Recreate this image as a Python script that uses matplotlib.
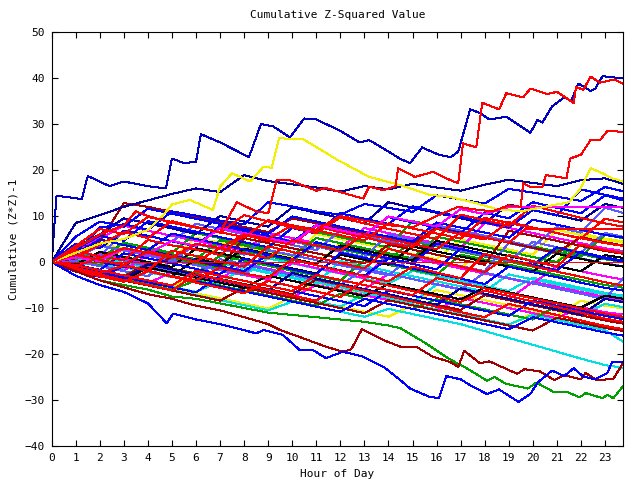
import matplotlib
matplotlib.use("Agg")
import matplotlib.pyplot as plt

# hourly sample points for the bundle of walks
hours = list(range(24)) + [23.75]

# prominent walks, read as (hour, value) breakpoints
top_blue_h = [0, 0.2, 1.25, 1.5, 2.4, 3.0, 4.0, 4.75, 5.0, 5.5, 6.0, 6.2, 7.0, 8.2, 8.7, 9.2, 9.9, 10.5, 11.0, 12.0,
              12.8, 13.2, 14.0, 14.5, 14.9, 15.4, 16.1, 16.6, 16.9, 17.4, 17.8, 18.2, 18.9, 19.9, 20.2, 20.4, 20.8,
              21.3, 21.6, 21.9, 22.4, 22.6, 22.9, 23.75]
top_blue_v = [0, 14.4, 13.7, 18.7, 16.5, 17.5, 16.5, 16.0, 22.5, 21.5, 21.8, 27.8, 26.0, 22.8, 30.0, 29.5, 27.1, 31.2,
              31.0, 28.5, 26.0, 26.5, 24.0, 22.4, 21.5, 24.9, 23.3, 22.8, 24.0, 33.2, 32.4, 31.0, 31.6, 28.1, 30.9,
              30.3, 33.8, 35.8, 35.1, 38.8, 37.2, 37.7, 40.4, 39.9]

top_red_h = [0, 1, 2, 3, 3.5, 4, 5, 6, 7, 7.7, 8.5, 9.0, 9.35, 9.9, 11.0, 11.4, 12.4, 12.95, 13.2, 13.8, 14.3, 14.4,
             15.1, 15.85, 16.4, 16.9, 17.1, 17.65, 17.9, 18.6, 18.9, 19.6, 19.9, 20.6, 21.0, 21.7, 21.8, 22.1, 22.4,
             22.8, 23.4, 23.75]
top_red_v = [0, 3, 6, 8, 11, 10, 8.5, 7.5, 6.5, 13, 11, 10.6, 17.8, 17.8, 15.5, 16.1, 14.6, 13.8, 16.4, 15.6, 16.5,
             20.4, 18.5, 19.6, 18.2, 17.1, 25.8, 24.9, 34.6, 33.2, 36.7, 35.8, 37.7, 36.5, 37.0, 34.6, 38.1, 37.4,
             40.3, 39.0, 39.7, 38.8]

red2_h = [0, 1, 2, 3, 4, 5, 6, 7, 8, 9, 10, 11, 12, 13, 14, 15, 16, 16.9, 17.5, 18.3, 19.0, 19.5, 19.6, 19.95, 20.4,
          20.55, 21.4, 21.55, 22.0, 22.4, 22.8, 23.1, 23.75]
red2_v = [0, -1, 1, 3, 2, 1, 4, 3, 6, 5, 8, 7, 10, 9, 8, 7.5, 10, 12, 11.5, 11, 12.3, 12, 17.1, 16.2, 16.3, 18.9, 18.2,
          22.5, 23.3, 26.5, 26.5, 28.5, 28.3]

yellow_top_h = [0, 1, 2, 3, 4, 4.6, 5.0, 5.75, 6.7, 7.0, 7.5, 8.25, 8.8, 9.15, 9.45, 10.45, 11.85, 13.2, 14.5, 15.7,
                16.5, 17.5, 18.5, 19.5, 20.5, 21.5, 21.95, 22.4, 22.9, 23.3, 23.75]
yellow_top_v = [0, 2, 4, 5, 7, 10, 12.5, 13.5, 11.3, 16.4, 19.3, 17.5, 20.7, 20.5, 26.9, 26.7, 22.3, 18.5, 16.7, 14.6,
                14.2, 13, 11.5, 11, 12, 13, 15.7, 20.4, 19.3, 18.2, 17.5]

blue_low_h = [0, 1, 2, 3, 4, 4.78, 5.05, 6, 7, 8.5, 8.8, 9.6, 10.3, 10.85, 11.4, 12.1, 12.9, 13.8, 14.5, 14.9, 15.7,
              16.1, 16.4, 17.0, 17.5, 18.1, 18.6, 19.4, 19.9, 20.2, 20.8, 21.3, 21.7, 22.1, 22.6, 23.1, 23.3, 23.75]
blue_low_v = [0, -3, -5, -6.5, -9, -13.3, -11.2, -12.5, -13.5, -15.5, -14.8, -15.8, -19.1, -19.1, -20.9, -19.5, -20.5,
              -22.8, -25.7, -27.5, -29.3, -29.6, -24.8, -25.5, -27.1, -28.7, -27.7, -30.4, -28.7, -26.2, -23.6, -24.8,
              -23.1, -24.9, -25.5, -24.1, -21.7, -21.8]

green_low_h = [0, 1, 2, 3, 4, 5, 6, 7, 8, 9, 10, 11, 12, 13, 14, 14.5, 15.5, 16.5, 17.25, 18.1, 18.4, 18.9, 19.8, 20.15,
               20.85, 21.4, 21.95, 22.2, 22.9, 23.1, 23.35, 23.75]
green_low_v = [0, -2, -4, -5, -6, -7.5, -8, -9, -10, -11, -11.5, -12, -12.5, -13, -13.8, -14.4, -17.5, -21, -23.1,
               -25.8, -25, -26.5, -27.5, -26.2, -28.2, -28.2, -29.4, -28.5, -29.6, -28.9, -29.6, -27]

darkred_low_h = [0, 1, 2, 3, 4, 5, 6, 7, 8, 9, 9.5, 10.2, 11.4, 12.1, 12.45, 12.9, 13.8, 14.5, 15.15, 15.85, 16.55,
                 16.9, 17.15, 17.8, 18.2, 19.35, 19.65, 20.3, 20.9, 21.3, 22.0, 22.2, 22.65, 23.35, 23.75]
darkred_low_v = [0, -2, -4, -5.5, -7, -8, -9.5, -10.5, -12, -13.5, -14.8, -16.1, -18.4, -19.5, -19, -14.6, -17, -18.4,
                 -18.4, -20.6, -21.7, -22.8, -19.3, -22, -21.6, -24.3, -23.3, -23.8, -25.7, -24.6, -25.5, -24.1, -25.7,
                 -25.4, -22]

magenta_flat_h = [0, 1, 2, 3, 4, 5, 6, 7, 8, 9, 10, 11, 12, 13, 14, 15, 16, 17, 18, 19.05, 23.75]
magenta_flat_v = [0, 1.0, 0.2, 2.9, 1.8, 4.6, 3.5, 7.4, 6.3, 5.2, 4.1, 8.0, 6.9, 5.8, 9.9, 8.8, 7.7, 11.5, 10.4, 12.0, 12.0]

red_flat_h = [0, 1, 2, 3, 4, 5, 6, 7, 8, 9, 10, 11, 12, 13, 14, 15, 16, 17, 18, 19, 19.7, 23.75]
red_flat_v = [0, 1.6, 0.5, -0.6, 2.3, 1.2, 0.1, 3.0, 1.9, 0.8, 4.7, 3.6, 2.5, 6.1, 5.0, 3.9, 2.8, 6.4, 5.3, 4.2, 7.2, 7.2]

zero_h = [0, 23.75]
zero_v = [0, 0]

# hourly bundle, one list per colour
red_walks = [
    [0, 2.5, 1.2, 0.4, 4.8, 3.6, 2.7, 1.5, 5.9, 4.6, 3.9, 7.8, 6.5, 5.4, 4.1, 3.3, 7.2, 6.0, 4.9, 8.7, 7.5, 6.3, 5.1, 9.4, 8.6],
    [0, -1.3, -2.4, -0.8, -1.9, -3.1, -4.0, -1.2, -2.5, -3.4, 0.6, -0.7, -1.9, -3.0, -4.2, -1.0, -2.3, -3.5, 1.8, 0.5, -0.9, -2.1, -3.2, -4.4, -5.1],
    [0, 1.0, 3.8, 6.5, 5.2, 8.9, 7.6, 6.4, 10.2, 8.8, 7.5, 6.3, 9.7, 8.4, 7.2, 6.1, 5.0, 10.3, 9.1, 7.9, 12.2, 10.9, 9.6, 8.4, 7.7],
    [0, -2.0, -3.1, -4.3, -2.0, -3.2, -4.5, -5.6, -6.8, -4.1, -5.3, -6.4, -7.6, -3.9, -5.1, -6.3, -7.5, -8.7, -6.2, -7.4, -8.6, -9.8, -11.0, -12.3, -13.0],
    [0, 1.6, 0.4, -0.7, -1.8, 2.5, 1.3, 0.1, -1.0, 3.4, 2.2, 1.0, -0.2, -1.4, 2.9, 1.6, 0.3, -1.0, -2.2, 1.5, 0.2, -1.0, 3.8, 2.6, 1.9],
    [0, -1.5, -2.7, -3.9, -5.0, -6.2, -2.6, -3.8, -5.0, -6.1, -7.3, -8.4, -5.0, -6.2, -7.4, -8.6, -9.7, -10.9, -12.0, -9.1, -10.3, -11.5, -12.7, -13.9, -14.6],
    [0, 3.5, 7.2, 6.1, 9.8, 8.7, 7.6, 6.5, 5.4, 9.1, 8.0, 6.9, 5.8, 4.7, 8.4, 7.3, 6.2, 5.1, 9.6, 8.5, 7.4, 6.3, 5.2, 4.1, 3.5],
    [0, -0.7, -1.8, -2.9, -4.0, -5.1, -1.9, -3.0, -4.1, -5.2, -6.3, -2.8, -3.9, -5.0, -6.1, -7.2, -3.5, -4.6, -5.7, -6.8, -7.9, -9.0, -10.1, -11.2, -11.9],
]
blue_walks = [
    [0, 4.0, 3.0, 6.8, 5.7, 4.5, 3.4, 7.9, 6.7, 5.6, 4.4, 8.1, 7.0, 5.8, 9.8, 8.6, 7.5, 6.3, 10.7, 9.5, 13.0, 11.8, 10.6, 14.5, 13.4],
    [0, 1.2, 0.1, -1.0, 2.6, 1.4, 0.3, -0.9, -2.0, 1.7, 0.5, -0.7, -1.8, -3.0, 0.8, -0.4, -1.6, 2.9, 1.7, 0.5, -0.7, 3.2, 2.0, 0.8, 0.1],
    [0, -1.1, -2.2, -3.3, -4.4, -5.5, -6.6, -3.0, -4.1, -5.2, -6.3, -7.4, -8.5, -9.6, -6.2, -7.3, -8.4, -9.5, -10.6, -11.7, -8.4, -9.5, -10.6, -11.7, -12.4],
    [0, 2.9, 5.7, 4.6, 8.9, 7.7, 6.6, 5.4, 4.3, 3.2, 7.4, 6.2, 10.6, 9.4, 8.3, 12.1, 10.9, 9.8, 8.6, 7.5, 11.3, 10.1, 15.8, 14.6, 13.8],
    [0, -0.6, -1.7, 1.9, 0.8, -0.3, -1.5, -2.6, 0.7, -0.4, -1.6, -2.7, 2.0, 0.9, -0.2, -1.4, -2.5, -3.6, -4.8, -1.0, -2.2, -3.3, -4.5, -5.6, -6.2],
    [0, 1.8, 4.9, 3.7, 2.6, 6.2, 5.0, 3.9, 2.7, 1.6, 0.5, 4.3, 3.1, 2.0, 0.8, -0.3, 4.0, 2.8, 1.7, 0.5, -0.6, -1.8, 2.2, 1.0, 0.3],
    [0, 2.0, 7.5, 8.2, 7.0, 11.0, 10.1, 9.0, 8.2, 13.0, 12.1, 11.0, 10.3, 12.6, 11.8, 10.9, 14.5, 13.6, 12.7, 15.9, 15.1, 14.2, 13.3, 16.3, 15.4],
    [0, 5.5, 8.8, 7.7, 11.6, 10.5, 9.4, 8.3, 7.2, 6.1, 9.9, 8.8, 7.7, 6.6, 5.5, 4.4, 8.6, 7.5, 6.4, 5.3, 9.2, 8.1, 7.0, 5.9, 5.3],
    [0, -2.1, -3.2, -0.9, -2.0, -3.1, -4.2, -5.3, -6.4, -7.5, -8.6, -9.7, -10.8, -8.0, -9.1, -10.2, -11.3, -12.4, -13.5, -14.6, -12.0, -13.1, -14.2, -15.3, -16.0],
]
navy_walks = [
    [0, 3.2, 6.0, 9.5, 8.4, 7.3, 6.1, 10.0, 8.8, 7.7, 11.9, 10.7, 9.6, 8.4, 13.0, 11.8, 10.7, 9.5, 8.4, 12.5, 11.3, 10.2, 9.0, 12.6, 11.8],
    [0, -1.4, -2.5, -3.7, -0.5, -1.6, -2.8, -3.9, -5.1, -6.2, -2.4, -3.6, -4.7, -5.9, -7.0, -8.2, -9.3, -5.7, -6.9, -8.0, -9.2, -10.3, -11.5, -8.0, -8.7],
    [0, 8.5, 10.2, 12.0, 13.4, 14.8, 16.0, 15.2, 18.9, 17.6, 16.9, 16.2, 15.3, 16.5, 15.8, 17.0, 16.2, 15.5, 16.8, 17.9, 17.2, 16.5, 17.8, 18.2, 17.0],
]
lightblue_walks = [
    [0, 0.9, 3.6, 2.5, 1.4, 0.2, 3.9, 2.8, 1.6, 5.7, 4.5, 3.4, 2.2, 1.1, 6.0, 4.8, 3.7, 2.5, 1.4, 0.2, 4.4, 3.2, 2.1, 6.3, 5.5],
    [0, -1.2, 1.4, 0.3, -0.9, -2.0, -3.1, 0.6, -0.5, -1.7, -2.8, -3.9, -5.1, -1.4, -2.6, -3.7, -4.9, -6.0, -2.3, -3.5, -4.6, -5.8, -6.9, -8.1, -3.6],
    [0, 2.2, 1.1, 6.8, 5.7, 4.5, 8.3, 7.2, 6.0, 4.9, 3.7, 2.6, 6.8, 5.6, 4.5, 3.3, 8.0, 6.8, 5.7, 4.5, 3.4, 7.6, 6.4, 11.8, 10.7],
    [0, 0.2, -0.9, -2.0, -3.1, 0.4, -0.7, -1.8, -2.9, 2.6, 1.5, 0.4, -0.7, -1.8, -2.9, 1.3, 0.2, -0.9, -2.0, 4.1, 3.0, 1.9, 0.8, -0.3, -0.9],
]
green_walks = [
    [0, -0.8, -1.9, -3.0, -0.3, -1.4, -2.5, 1.4, 0.3, -0.8, -1.9, -3.0, -4.1, 0.5, -0.6, -1.7, -2.8, 1.6, 0.5, -0.6, -1.7, -2.8, -3.9, -5.0, -5.6],
    [0, 1.5, 0.4, -0.7, 2.8, 1.7, 0.6, 4.7, 3.6, 2.5, 1.4, 5.2, 4.1, 3.0, 1.9, 0.8, 5.5, 4.4, 3.3, 2.2, 1.1, 0.0, 3.7, 2.6, 2.0],
    [0, -1.6, -2.7, -3.8, -4.9, -6.0, -4.0, -5.1, -6.2, -7.3, -8.4, -9.5, -6.9, -8.0, -9.1, -10.2, -8.1, -9.2, -10.3, -11.4, -12.5, -9.5, -10.6, -11.7, -12.2],
    [0, 0.4, -0.7, 3.1, 2.0, 0.9, -0.2, -1.3, 2.4, 1.3, 0.2, 3.9, 2.8, 1.7, 0.6, 4.5, 3.4, 2.3, 1.2, 0.1, -1.0, 2.8, 1.7, 0.6, 0.0],
    [0, 1.9, 0.8, 4.2, 3.1, 2.0, 6.3, 5.2, 4.1, 3.0, 7.6, 6.5, 5.4, 4.3, 3.2, 8.9, 7.8, 6.7, 5.6, 4.5, 3.4, 2.3, 1.2, 5.9, 5.2],
]
magenta_walks = [
    [0, -0.9, 1.8, 0.7, -0.4, -1.5, -2.6, -3.7, -0.4, -1.5, -2.6, -3.7, -4.8, -5.9, -2.6, -3.7, -4.8, -5.9, -7.0, -8.1, -4.3, -5.4, -6.5, -7.6, -8.2],
    [0, 2.4, 5.1, 7.9, 6.8, 5.7, 4.6, 3.5, 2.4, 6.3, 5.2, 4.1, 3.0, 7.4, 6.3, 5.2, 4.1, 3.0, 8.5, 7.4, 6.3, 5.2, 4.1, 3.0, 2.4],
    [0, -1.3, -2.4, -3.5, -4.6, -2.2, -3.3, -4.4, -5.5, -6.6, -7.7, -5.0, -6.1, -7.2, -8.3, -9.4, -10.5, -7.8, -8.9, -10.0, -11.1, -12.2, -9.8, -10.9, -11.4],
    [0, 0.3, -0.8, -1.9, 1.6, 0.5, -0.6, -1.7, -2.8, -3.9, -0.2, -1.3, -2.4, -3.5, 1.9, 0.8, -0.3, -1.4, -2.5, -3.6, -4.7, -0.9, -2.0, -3.1, -3.8],
]
cyan_walks = [
    [0, -1.0, -2.1, -3.2, -4.3, -5.4, -6.5, -4.2, -5.3, -6.4, -7.5, -8.6, -9.7, -7.0, -8.1, -9.2, -10.3, -11.4, -12.5, -13.6, -11.5, -12.6, -13.7, -14.8, -17.3],
    [0, 0.6, -0.5, -1.6, 1.5, 0.4, -0.7, -1.8, -2.9, 0.8, -0.3, -1.4, -2.5, -3.6, -4.7, -1.9, -3.0, -4.1, -5.2, -6.3, -3.4, -4.5, -5.6, -6.7, -7.3],
    [0, -1.7, -2.8, -3.9, -5.0, -6.1, -7.2, -8.3, -9.4, -10.5, -8.6, -9.7, -10.8, -11.9, -10.2, -11.3, -12.4, -13.5, -15.0, -16.5, -18.0, -19.5, -21.0, -22.4, -23.0],
    [0, 1.1, 0.0, -1.1, -2.2, -3.3, 0.9, -0.2, -1.3, -2.4, -3.5, -4.6, 0.2, -0.9, -2.0, -3.1, -4.2, -5.3, -6.4, -2.7, -3.8, -4.9, -6.0, -7.1, -7.7],
    [0, -1.4, 0.9, -0.2, -1.3, -2.4, -3.5, -4.6, -1.1, -2.2, -3.3, -4.4, -5.5, -6.6, -7.7, -8.8, -4.9, -6.0, -7.1, -8.2, -9.3, -10.4, -11.5, -9.1, -9.8],
]
darkred_walks = [
    [0, 0.8, 4.5, 12.8, 12.0, 10.9, 9.8, 8.7, 7.6, 6.5, 9.5, 8.4, 7.3, 6.2, 5.1, 4.0, 7.5, 6.4, 5.3, 4.2, 3.1, 2.0, 5.4, 4.3, 3.6],
    [0, -1.0, -2.1, -3.2, -0.4, -1.5, -2.6, -3.7, -4.8, -5.9, -7.0, -3.8, -4.9, -6.0, -7.1, -8.2, -9.3, -10.4, -7.2, -8.3, -9.4, -10.5, -11.6, -12.7, -13.4],
    [0, 1.4, 0.3, -0.8, -1.9, 1.2, 0.1, -1.0, 5.2, 4.1, 3.0, 1.9, 0.8, -0.3, 3.8, 2.7, 1.6, 0.5, -0.6, 6.8, 5.7, 4.6, 3.5, 2.4, 1.8],
    [0, -1.8, -2.9, -4.0, -5.1, -6.2, -7.3, -8.4, -5.6, -6.7, -7.8, -8.9, -10.0, -11.1, -8.3, -9.4, -10.5, -11.6, -12.7, -13.8, -14.9, -12.1, -13.2, -14.3, -15.0],
]
yellow_walks = [
    [0, -1.1, -2.2, -3.3, -4.4, -5.5, -3.0, -4.1, -5.2, -6.3, -7.4, -4.6, -5.7, -6.8, -7.9, -9.0, -6.1, -7.2, -8.3, -9.4, -10.5, -11.6, -8.4, -9.5, -10.1],
    [0, 0.7, -0.4, 2.6, 1.5, 0.4, -0.7, 3.9, 2.8, 1.7, 0.6, -0.5, 4.1, 3.0, 1.9, 0.8, -0.3, -1.4, 3.3, 2.2, 1.1, 0.0, 6.2, 5.1, 4.5],
    [0, -1.3, -2.4, -3.5, -4.6, -5.7, -6.8, -7.9, -9.0, -10.1, -7.5, -8.6, -9.7, -10.8, -11.9, -9.3, -10.4, -11.5, -12.6, -13.7, -11.0, -12.1, -13.2, -14.3, -15.0],
    [0, 1.7, 4.0, 2.9, 1.8, 0.7, 5.3, 4.2, 3.1, 2.0, 0.9, 6.1, 5.0, 3.9, 2.8, 1.7, 0.6, 4.9, 3.8, 2.7, 1.6, 7.0, 5.9, 4.8, 4.2],
]
black_walks = [
    [0, -0.5, 2.2, 1.1, 0.0, -1.1, 3.0, 1.9, 0.8, -0.3, -1.4, -2.5, 1.6, 0.5, -0.6, 3.4, 2.3, 1.2, 0.1, -1.0, -2.1, 1.8, 0.7, -0.4, -1.0],
    [0, 1.3, 0.2, -0.9, -2.0, -3.1, 0.7, -0.4, 2.9, 1.8, 0.7, -0.4, 3.6, 2.5, 1.4, 0.3, 4.6, 3.5, 2.4, 1.3, 0.2, -0.9, -2.0, 1.5, 0.9],
    [0, -1.6, -2.7, -3.8, -1.2, -2.3, -3.4, -4.5, -5.6, -3.0, -4.1, -5.2, -6.3, -7.4, -4.8, -5.9, -7.0, -8.1, -5.5, -6.6, -7.7, -8.8, -9.9, -7.3, -8.0],
]

RED, GREEN, BLUE, MAGENTA, CYAN = '#ff0000', '#00a000', '#0000ff', '#ff00ff', '#00e0e0'
DARKRED, YELLOW, BLACK, NAVY, LIGHTBLUE = '#a00000', '#f0f000', '#000000', '#0000a0', '#5a5aff'
LW = 0.72  # one pixel at 100 dpi

plt.rcParams['font.family'] = ['DejaVu Sans Mono']
fig = plt.figure(figsize=(6.4, 4.8), dpi=100)
ax = fig.add_axes([0.0808, 0.0708, 0.8926, 0.8625])

bundle = [(yellow_walks, YELLOW), (cyan_walks, CYAN), (magenta_walks, MAGENTA), (green_walks, GREEN),
          (lightblue_walks, LIGHTBLUE), (darkred_walks, DARKRED), (black_walks, BLACK),
          (navy_walks, NAVY), (blue_walks, BLUE), (red_walks, RED)]
for walks, col in bundle:
    for w in walks:
        ax.plot(hours, w, color=col, lw=LW, antialiased=False)

ax.plot(magenta_flat_h, magenta_flat_v, color=MAGENTA, lw=LW, antialiased=False)
ax.plot(red_flat_h, red_flat_v, color=RED, lw=LW, antialiased=False)
ax.plot(green_low_h, green_low_v, color=GREEN, lw=LW, antialiased=False)
ax.plot(darkred_low_h, darkred_low_v, color=DARKRED, lw=LW, antialiased=False)
ax.plot(blue_low_h, blue_low_v, color=BLUE, lw=LW, antialiased=False)
ax.plot(yellow_top_h, yellow_top_v, color=YELLOW, lw=LW, antialiased=False)
ax.plot(red2_h, red2_v, color=RED, lw=LW, antialiased=False)
ax.plot(top_blue_h, top_blue_v, color='#0000c0', lw=LW, antialiased=False)
ax.plot(top_red_h, top_red_v, color=RED, lw=LW, antialiased=False)
ax.plot(zero_h, zero_v, color=RED, lw=LW, antialiased=False)

ax.set_xlim(0, 23.75)
ax.set_ylim(-40, 50)
ax.set_xticks(range(24))
ax.set_yticks(range(-40, 51, 10))
ax.tick_params(direction='in', length=4.5, width=0.8, top=True, right=True, labelsize=8, pad=5)
for s in ax.spines.values():
    s.set_linewidth(0.8)
ax.set_title("Cumulative Z-Squared Value", fontsize=8, pad=10)
ax.set_xlabel("Hour of Day", fontsize=8, labelpad=4)
ax.set_ylabel("Cumulative (Z*Z)-1", fontsize=8, labelpad=4)

fig.savefig("out.png", dpi=100)
